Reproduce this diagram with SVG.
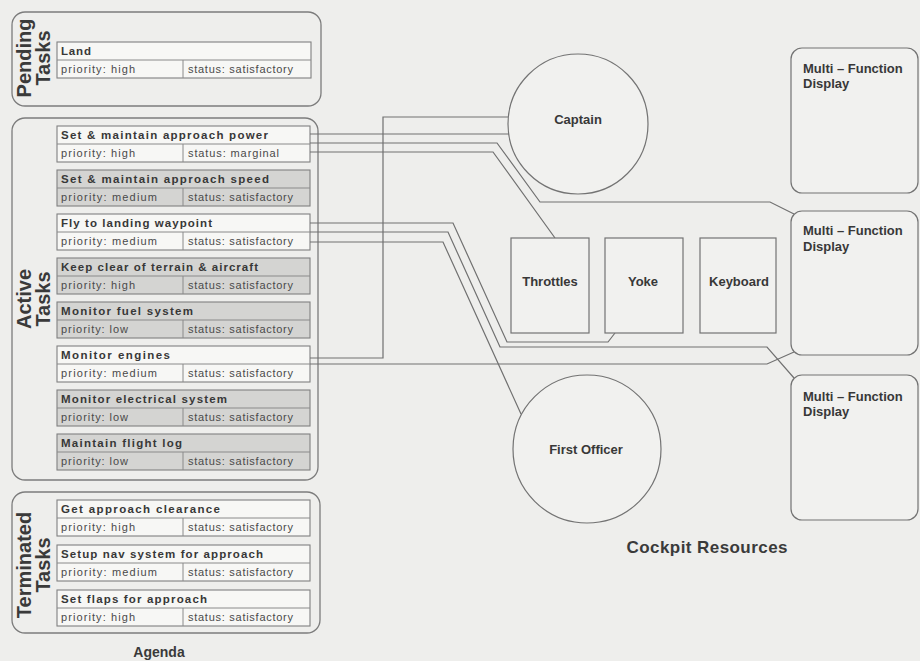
<svg xmlns="http://www.w3.org/2000/svg" width="920" height="661" viewBox="0 0 920 661">
<style>
.bg{fill:#eeeeec}
.grp{fill:none;stroke:#7c7c7c;stroke-width:1.3}
.box{stroke:#808080;stroke-width:1.1}
.w{fill:#f7f7f5}
.s{fill:#d4d4d2}
.dv{stroke:#8a8a8a;stroke-width:1}
.t{font-family:"Liberation Sans",Arial,sans-serif;font-weight:bold;font-size:11.5px;fill:#383838}
.p{font-family:"Liberation Sans",Arial,sans-serif;font-size:11px;fill:#4a4a4a}
.lbl{font-family:"Liberation Sans",Arial,sans-serif;font-weight:bold;font-size:20px;fill:#3a3a3a;text-anchor:middle}
.ttl{font-family:"Liberation Sans",Arial,sans-serif;font-weight:bold;fill:#3a3a3a;text-anchor:middle}
.res{fill:#f1f1ef;stroke:#737373;stroke-width:1.2}
.rl{font-family:"Liberation Sans",Arial,sans-serif;font-weight:bold;font-size:13px;fill:#383838}
.c{text-anchor:middle}
.conn path{fill:none;stroke:#707070;stroke-width:1.2}
</style>
<rect class="bg" x="0" y="0" width="920" height="661"/>

<!-- Agenda groups -->
<g id="pending-tasks">
  <rect class="grp" x="12" y="12" width="309" height="94" rx="13"/>
  <text class="lbl" transform="translate(31,58) rotate(-90)">Pending</text>
  <text class="lbl" transform="translate(50,58) rotate(-90)">Tasks</text>
</g>
<g id="active-tasks">
  <rect class="grp" x="12" y="118" width="306" height="362" rx="13"/>
  <text class="lbl" transform="translate(31,299) rotate(-90)">Active</text>
  <text class="lbl" transform="translate(50,299) rotate(-90)">Tasks</text>
</g>
<g id="terminated-tasks">
  <rect class="grp" x="12" y="492" width="308" height="141" rx="13"/>
  <text class="lbl" transform="translate(31,565) rotate(-90)">Terminated</text>
  <text class="lbl" transform="translate(50,565) rotate(-90)">Tasks</text>
</g>

<!-- Task nodes -->
<g id="task-land" transform="translate(57,42)">
  <rect class="box w" width="254" height="36"/>
  <line class="dv" x1="0" y1="18" x2="254" y2="18"/><line class="dv" x1="126" y1="18" x2="126" y2="36"/>
  <text class="t" x="4" y="13" textLength="30">Land</text>
  <text class="p" x="4" y="31" textLength="74">priority: high</text>
  <text class="p" x="131" y="31" textLength="105">status: satisfactory</text>
</g>
<g id="task-approach-power" transform="translate(57,126)">
  <rect class="box w" width="253" height="36"/>
  <line class="dv" x1="0" y1="18" x2="253" y2="18"/><line class="dv" x1="126" y1="18" x2="126" y2="36"/>
  <text class="t" x="4" y="13" textLength="207">Set &amp; maintain approach power</text>
  <text class="p" x="4" y="31" textLength="74">priority: high</text>
  <text class="p" x="131" y="31" textLength="91">status: marginal</text>
</g>
<g id="task-approach-speed" transform="translate(57,170)">
  <rect class="box s" width="253" height="36"/>
  <line class="dv" x1="0" y1="18" x2="253" y2="18"/><line class="dv" x1="126" y1="18" x2="126" y2="36"/>
  <text class="t" x="4" y="13" textLength="208">Set &amp; maintain approach speed</text>
  <text class="p" x="4" y="31" textLength="96">priority: medium</text>
  <text class="p" x="131" y="31" textLength="105">status: satisfactory</text>
</g>
<g id="task-fly-waypoint" transform="translate(57,214)">
  <rect class="box w" width="253" height="36"/>
  <line class="dv" x1="0" y1="18" x2="253" y2="18"/><line class="dv" x1="126" y1="18" x2="126" y2="36"/>
  <text class="t" x="4" y="13" textLength="151">Fly to landing waypoint</text>
  <text class="p" x="4" y="31" textLength="96">priority: medium</text>
  <text class="p" x="131" y="31" textLength="105">status: satisfactory</text>
</g>
<g id="task-keep-clear" transform="translate(57,258)">
  <rect class="box s" width="253" height="36"/>
  <line class="dv" x1="0" y1="18" x2="253" y2="18"/><line class="dv" x1="126" y1="18" x2="126" y2="36"/>
  <text class="t" x="4" y="13" textLength="197">Keep clear of terrain &amp; aircraft</text>
  <text class="p" x="4" y="31" textLength="74">priority: high</text>
  <text class="p" x="131" y="31" textLength="105">status: satisfactory</text>
</g>
<g id="task-fuel" transform="translate(57,302)">
  <rect class="box s" width="253" height="36"/>
  <line class="dv" x1="0" y1="18" x2="253" y2="18"/><line class="dv" x1="126" y1="18" x2="126" y2="36"/>
  <text class="t" x="4" y="13" textLength="132">Monitor fuel system</text>
  <text class="p" x="4" y="31" textLength="67">priority: low</text>
  <text class="p" x="131" y="31" textLength="105">status: satisfactory</text>
</g>
<g id="task-engines" transform="translate(57,346)">
  <rect class="box w" width="253" height="36"/>
  <line class="dv" x1="0" y1="18" x2="253" y2="18"/><line class="dv" x1="126" y1="18" x2="126" y2="36"/>
  <text class="t" x="4" y="13" textLength="109">Monitor engines</text>
  <text class="p" x="4" y="31" textLength="96">priority: medium</text>
  <text class="p" x="131" y="31" textLength="105">status: satisfactory</text>
</g>
<g id="task-electrical" transform="translate(57,390)">
  <rect class="box s" width="253" height="36"/>
  <line class="dv" x1="0" y1="18" x2="253" y2="18"/><line class="dv" x1="126" y1="18" x2="126" y2="36"/>
  <text class="t" x="4" y="13" textLength="166">Monitor electrical system</text>
  <text class="p" x="4" y="31" textLength="67">priority: low</text>
  <text class="p" x="131" y="31" textLength="105">status: satisfactory</text>
</g>
<g id="task-flight-log" transform="translate(57,434)">
  <rect class="box s" width="253" height="36"/>
  <line class="dv" x1="0" y1="18" x2="253" y2="18"/><line class="dv" x1="126" y1="18" x2="126" y2="36"/>
  <text class="t" x="4" y="13" textLength="121">Maintain flight log</text>
  <text class="p" x="4" y="31" textLength="67">priority: low</text>
  <text class="p" x="131" y="31" textLength="105">status: satisfactory</text>
</g>
<g id="task-clearance" transform="translate(57,500)">
  <rect class="box w" width="253" height="36"/>
  <line class="dv" x1="0" y1="18" x2="253" y2="18"/><line class="dv" x1="126" y1="18" x2="126" y2="36"/>
  <text class="t" x="4" y="13" textLength="159">Get approach clearance</text>
  <text class="p" x="4" y="31" textLength="74">priority: high</text>
  <text class="p" x="131" y="31" textLength="105">status: satisfactory</text>
</g>
<g id="task-nav-setup" transform="translate(57,545)">
  <rect class="box w" width="253" height="36"/>
  <line class="dv" x1="0" y1="18" x2="253" y2="18"/><line class="dv" x1="126" y1="18" x2="126" y2="36"/>
  <text class="t" x="4" y="13" textLength="202">Setup nav system for approach</text>
  <text class="p" x="4" y="31" textLength="96">priority: medium</text>
  <text class="p" x="131" y="31" textLength="105">status: satisfactory</text>
</g>
<g id="task-flaps" transform="translate(57,590)">
  <rect class="box w" width="253" height="36"/>
  <line class="dv" x1="0" y1="18" x2="253" y2="18"/><line class="dv" x1="126" y1="18" x2="126" y2="36"/>
  <text class="t" x="4" y="13" textLength="146">Set flaps for approach</text>
  <text class="p" x="4" y="31" textLength="74">priority: high</text>
  <text class="p" x="131" y="31" textLength="105">status: satisfactory</text>
</g>

<text id="agenda-title" class="ttl" x="159" y="657" font-size="14">Agenda</text>

<!-- Connectors -->
<g id="connectors" class="conn">
  <path d="M310,358 H383 V117 H508"/>
  <path d="M310,364 H767 L794,352"/>
  <path d="M310,134 H509"/>
  <path d="M310,143 H497 L540,202 H770 L794,214"/>
  <path d="M310,152 H493 L555,238"/>
  <path d="M310,223 H453 L507,342 H608 L615,333"/>
  <path d="M310,232 H448 L500,347 H767 L794,378"/>
  <path d="M310,242 H443 L521,414"/>
</g>

<!-- Cockpit resources -->
<g id="captain">
  <circle class="res" cx="578" cy="124" r="70"/>
  <text class="rl c" x="578" y="124">Captain</text>
</g>
<g id="first-officer">
  <circle class="res" cx="587" cy="449" r="74"/>
  <text class="rl c" x="586" y="454">First Officer</text>
</g>
<g id="throttles">
  <rect class="res" x="511" y="238" width="78" height="95"/>
  <text class="rl c" x="550" y="286">Throttles</text>
</g>
<g id="yoke">
  <rect class="res" x="605" y="238" width="78" height="95"/>
  <text class="rl c" x="643" y="286">Yoke</text>
</g>
<g id="keyboard">
  <rect class="res" x="700" y="238" width="76" height="95"/>
  <text class="rl c" x="739" y="286">Keyboard</text>
</g>
<g id="mfd-1">
  <rect class="res" x="791" y="48" width="127" height="145" rx="11"/>
  <text class="rl" x="803" y="73">Multi – Function</text>
  <text class="rl" x="803" y="88">Display</text>
</g>
<g id="mfd-2">
  <rect class="res" x="791" y="211" width="127" height="144" rx="11"/>
  <text class="rl" x="803" y="235">Multi – Function</text>
  <text class="rl" x="803" y="251">Display</text>
</g>
<g id="mfd-3">
  <rect class="res" x="791" y="375" width="127" height="145" rx="11"/>
  <text class="rl" x="803" y="401">Multi – Function</text>
  <text class="rl" x="803" y="416">Display</text>
</g>

<text id="cockpit-title" class="ttl" x="707" y="553" font-size="17" textLength="161">Cockpit Resources</text>
</svg>
